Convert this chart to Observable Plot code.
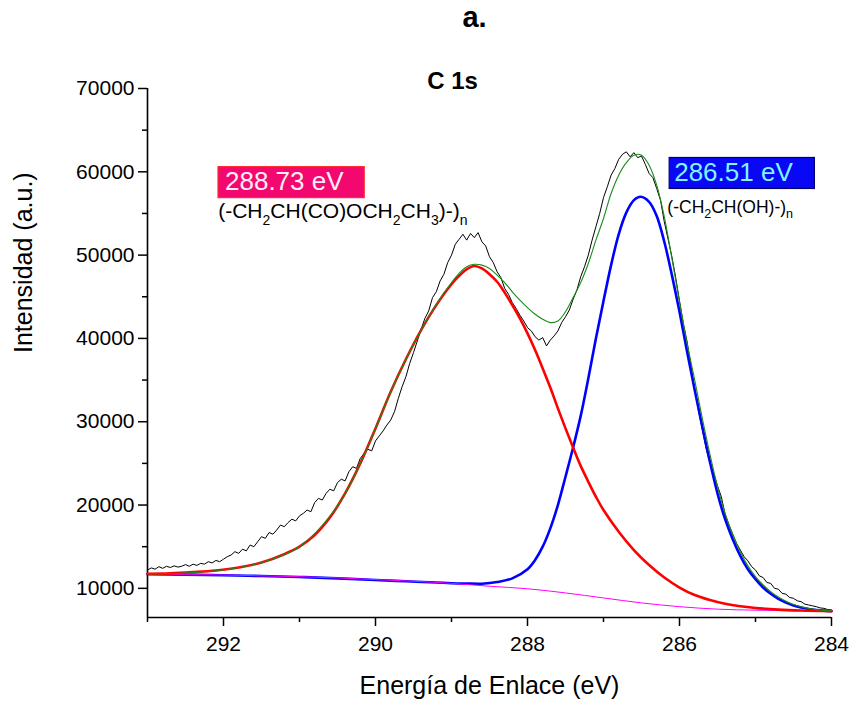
<!DOCTYPE html>
<html><head><meta charset="utf-8">
<script src="https://cdn.jsdelivr.net/npm/d3@7"></script>
<script src="https://cdn.jsdelivr.net/npm/@observablehq/plot@0.6"></script>
<style>body{margin:0;background:#fff} svg{display:block}</style>
</head><body><div id="chart"></div>
<script>
// Experimental spectrum [binding energy (eV), intensity]
const experimental = [
[293.00,12200],[292.95,12450],[292.90,12300],[292.85,12600],[292.80,12400],[292.75,12650],[292.70,12500],[292.65,12700],[292.60,12550],[292.55,12650],
[292.50,12850],[292.45,12650],[292.40,12900],[292.35,12750],[292.30,13000],[292.25,12900],[292.20,13200],[292.15,13050],[292.10,13350],[292.05,13200],
[292.00,13500],[291.95,13800],[291.90,14000],[291.85,14400],[291.80,14200],[291.75,14700],[291.70,14500],[291.65,15200],[291.60,15000],[291.55,15600],
[291.50,16200],[291.45,16000],[291.40,16700],[291.35,16500],[291.30,17000],[291.25,17600],[291.20,17400],[291.15,17900],[291.10,18300],[291.05,18100],
[291.00,18700],[290.95,19000],[290.90,19400],[290.85,19200],[290.80,20300],[290.75,20800],[290.70,20600],[290.65,21400],[290.60,21900],[290.55,21700],
[290.50,22700],[290.45,23100],[290.40,22900],[290.35,24000],[290.30,24600],[290.25,24400],[290.20,25600],[290.15,26200],[290.10,26700],[290.05,26500],
[290.00,27700],[289.95,28300],[289.90,28900],[289.85,29600],[289.80,30200],[289.75,31200],[289.70,32800],[289.65,34200],[289.60,35400],[289.55,37000],
[289.50,38300],[289.45,39700],[289.40,41100],[289.35,42400],[289.30,43300],[289.25,44900],[289.20,45600],[289.15,46900],[289.10,47700],[289.05,49100],
[289.00,50000],[288.95,51300],[288.90,51900],[288.85,52500],[288.80,51800],[288.75,52600],[288.70,52100],[288.65,52700],[288.60,51600],[288.55,51100],
[288.50,49800],[288.45,49100],[288.40,48000],[288.35,47300],[288.30,46000],[288.25,45300],[288.20,44300],[288.15,43600],[288.10,42800],[288.05,42100],
[288.00,41300],[287.95,40900],[287.90,40200],[287.85,39800],[287.80,40100],[287.75,39100],[287.70,39800],[287.65,40300],[287.60,40900],[287.55,41900],
[287.50,42600],[287.45,43400],[287.40,44700],[287.35,45800],[287.30,47400],[287.25,48600],[287.20,50000],[287.15,51800],[287.10,53400],[287.05,55000],
[287.00,56900],[286.95,58200],[286.90,59600],[286.85,60400],[286.80,61500],[286.75,62100],[286.70,62400],[286.65,61800],[286.60,62300],[286.55,61700],
[286.50,61900],[286.45,60900],[286.40,59800],[286.35,59300],[286.30,58000],[286.25,56600],[286.20,54000],[286.15,51900],[286.10,49800],[286.05,47300],
[286.00,44500],[285.95,41800],[285.90,39600],[285.85,36700],[285.80,33900],[285.75,31300],[285.70,29100],[285.65,26800],[285.60,25100],[285.55,23800],
[285.50,22300],[285.45,21000],[285.40,18900],[285.35,17600],[285.30,16500],[285.25,15400],[285.20,14600],[285.15,13800],[285.10,13300],[285.05,12600],
[285.00,12200],[284.95,11500],[284.90,11300],[284.85,10700],[284.80,10600],[284.75,10000],[284.70,9900],[284.65,9400],[284.60,9300],[284.55,8900],
[284.50,8800],[284.45,8500],[284.40,8400],[284.35,8100],[284.30,8000],[284.25,7900],[284.20,7800],[284.15,7650],[284.10,7600],[284.05,7450],[284.00,7400]
];
// Fitted envelope (green)
const envelope = [
[293.0,11750],[292.5,11850],[292.0,12200],[291.5,13100],[291.0,15000],[290.5,19900],[290.2,25000],[290.0,29200],[289.8,33600],[289.6,37500],
[289.4,41000],[289.2,44100],[289.0,46700],[288.9,47800],
[288.8,48600],[288.7,48900],[288.6,48800],[288.5,48400],[288.4,47600],[288.3,46700],[288.2,45600],[288.1,44600],[288.0,43700],[287.9,42900],
[287.8,42300],[287.7,41900],[287.6,42100],[287.5,43200],[287.4,44900],[287.3,46700],[287.2,49000],[287.1,51800],[287.0,54400],[286.9,57400],
[286.8,59600],[286.7,61100],[286.6,62000],[286.5,62000],[286.4,60800],[286.3,58400],[286.2,54600],[286.1,49600],[286.0,44400],[285.9,39400],
[285.8,35000],[285.7,30400],[285.6,26100],[285.5,22200],[285.4,19000],[285.3,16500],[285.2,14400],[285.1,12700],[285.0,11400],[284.9,10400],
[284.8,9600],[284.7,8950],[284.6,8450],[284.5,8050],[284.4,7780],[284.3,7580],[284.2,7440],[284.1,7350],[284.0,7290]
];
// Component at 288.73 eV (red)
const peakEster = [
[293.0,11750],[292.7,11800],[292.4,11950],[292.1,12150],[291.8,12500],[291.5,13100],[291.2,14100],[291.0,15000],[290.8,16400],[290.6,18500],
[290.4,21400],[290.2,25000],[290.0,29200],[289.8,33600],[289.6,37500],[289.4,41000],[289.2,44000],[289.0,46500],[288.9,47500],[288.8,48300],
[288.7,48700],[288.6,48400],[288.5,47700],[288.4,46800],[288.3,45500],[288.2,44000],[288.1,42400],[288.0,40600],[287.9,38600],[287.8,36400],
[287.7,34100],[287.6,31600],[287.5,29200],[287.4,26900],[287.3,24700],[287.2,22800],[287.1,21000],[287.0,19400],[286.8,16800],[286.6,14600],
[286.4,12800],[286.2,11300],[286.0,10100],[285.8,9200],[285.6,8600],[285.4,8150],[285.2,7850],[285.0,7650],[284.7,7450],[284.4,7340],[284.0,7270]
];
// Component at 286.51 eV (blue)
const peakAlcohol = [
[293.0,11700],[292.5,11650],[292.0,11580],[291.5,11480],[291.0,11360],[290.5,11200],[290.0,11000],[289.6,10850],[289.2,10700],[289.0,10620],
[288.8,10580],[288.6,10560],[288.4,10750],[288.2,11200],[288.0,12300],[287.9,13400],[287.8,15000],[287.7,17200],[287.6,20000],[287.5,23400],
[287.4,26900],[287.3,30700],[287.2,35200],[287.1,40000],[287.0,44500],[286.9,48800],[286.8,52500],[286.7,55100],[286.6,56600],[286.51,57000],
[286.4,56400],[286.3,54700],[286.2,51600],[286.1,47600],[286.0,43200],[285.9,38400],[285.8,33800],[285.7,29400],[285.6,25200],[285.5,21400],
[285.4,18300],[285.3,15900],[285.2,13900],[285.1,12300],[285.0,11100],[284.9,10100],[284.8,9350],[284.7,8750],[284.6,8300],[284.5,7950],
[284.4,7700],[284.3,7520],[284.2,7400],[284.1,7320],[284.0,7270]
];
// Shirley background (magenta)
const background = [
[293.0,11700],[292.5,11650],[292.0,11600],[291.5,11500],[291.0,11400],[290.5,11250],[290.0,11050],[289.5,10850],[289.0,10600],[288.5,10250],
[288.0,9950],[287.5,9450],[287.0,8850],[286.5,8250],[286.0,7800],[285.5,7500],[285.0,7380],[284.5,7310],[284.0,7270]
];

const xDomain = [293, 284];
const yDomain = [6500, 70000];
const xTicks = [292, 290, 288, 286, 284];
const xMinorTicks = [293, 291, 289, 287, 285];
const yTicks = [10000, 20000, 30000, 40000, 50000, 60000, 70000];
const yMinorTicks = [15000, 25000, 35000, 45000, 55000, 65000];

const panelTitle = "a.";
const plotTitle = "C 1s";
const xLabel = "Energía de Enlace (eV)";
const yLabel = "Intensidad (a.u.)";
// annotation anchors in data units (energy, intensity)
const peakLabels = [
  {text: "288.73 eV", e: 291.98, v: 57800},
  {text: "286.51 eV", e: 286.07, v: 58900}
];
const formulas = [
  {text: "(-CH_2CH(CO)OCH_2CH_3)-)_n", e: 292.07, v: 54400},
  {text: "(-CH_2CH(OH)-)_n", e: 286.16, v: 55000}
];

const rows = a => a.map(([e, v]) => ({e, v}));
const FONT = "'Liberation Sans', Arial, Helvetica, sans-serif";

const plot = Plot.plot({
  width: 853, height: 704,
  marginLeft: 147, marginRight: 22, marginTop: 88, marginBottom: 87,
  style: {fontFamily: FONT, fontSize: "21px", color: "#000", background: "#fff", overflow: "visible"},
  x: {domain: xDomain, axis: null},
  y: {domain: yDomain, axis: null},
  marks: [
    Plot.axisX(xTicks, {tickSize: 9, tickPadding: 10, strokeWidth: 1.5, fontSize: 21, label: null, fill: "#000"}),
    Plot.axisX(xMinorTicks, {tickSize: 5, strokeWidth: 1.5, tickFormat: () => "", label: null}),
    Plot.axisY(yTicks, {tickSize: 9, tickPadding: 4, strokeWidth: 1.5, fontSize: 21, label: null, fill: "#000", tickFormat: d => String(d)}),
    Plot.axisY(yMinorTicks, {tickSize: 5, strokeWidth: 1.5, tickFormat: () => "", label: null}),
    Plot.ruleX([xDomain[0]], {stroke: "#000", strokeWidth: 1.6}),
    Plot.ruleY([yDomain[0]], {stroke: "#000", strokeWidth: 1.6}),
    Plot.line(rows(experimental), {x: "e", y: "v", stroke: "#000", strokeWidth: 1}),
    Plot.line(rows(peakAlcohol), {x: "e", y: "v", stroke: "#0000ff", strokeWidth: 2.6, curve: "catmull-rom"}),
    Plot.line(rows(background), {x: "e", y: "v", stroke: "#ff00ff", strokeWidth: 1, curve: "catmull-rom"}),
    Plot.line(rows(peakEster), {x: "e", y: "v", stroke: "#ff0000", strokeWidth: 2.6, curve: "catmull-rom"}),
    Plot.line(rows(envelope), {x: "e", y: "v", stroke: "#1a8a1a", strokeWidth: 1.1, curve: "catmull-rom"}),
    Plot.text(peakLabels, {x: "e", y: "v", text: "text", textAnchor: "start", lineAnchor: "bottom", fontSize: 26, fill: (d, i) => i === 0 ? "#ffeef6" : "#80f4ff"}),
    Plot.text(formulas, {x: "e", y: "v", text: d => d.text.replace(/_/g, ""), textAnchor: "start", lineAnchor: "bottom", fontSize: (d, i) => i === 0 ? 21 : 17.5, fill: "#000"}),
    Plot.text([plotTitle], {frameAnchor: "top", dx: -37, dy: 0, lineAnchor: "bottom", fontSize: 24, fontWeight: "bold", fill: "#000"}),
    Plot.text([panelTitle], {frameAnchor: "top", dx: -15, dy: -62, lineAnchor: "bottom", fontSize: 29, fontWeight: "bold", fill: "#000"}),
    Plot.text([xLabel], {frameAnchor: "bottom", dy: 76, lineAnchor: "bottom", fontSize: 25, fill: "#000"}),
    Plot.text([yLabel], {frameAnchor: "left", dx: -116, rotate: -90, lineAnchor: "bottom", fontSize: 25, fill: "#000"})
  ]
});
document.getElementById("chart").appendChild(plot);

// Boxes behind the peak labels
const boxStyle = {
  "288.73 eV": {fill: "#f2086f", stroke: "#ff2a2a", padL: 7, padR: 20},
  "286.51 eV": {fill: "#0808f4", stroke: "#000070", padL: 5, padR: 21}
};
d3.select(plot).selectAll("text").each(function() {
  const t = this.textContent;
  if (boxStyle[t]) {
    const s = boxStyle[t];
    const bb = this.getBBox();
    const r = document.createElementNS("http://www.w3.org/2000/svg", "rect");
    r.setAttribute("x", bb.x - s.padL);
    r.setAttribute("y", bb.y + 0.5);
    r.setAttribute("width", bb.width + s.padL + s.padR);
    r.setAttribute("height", bb.height + 1);
    r.setAttribute("fill", s.fill);
    r.setAttribute("stroke", s.stroke);
    r.setAttribute("stroke-width", 1.2);
    if (this.getAttribute("transform")) r.setAttribute("transform", this.getAttribute("transform"));
    this.parentNode.insertBefore(r, this);
  }
});
// Subscripts in the chemical formulas
formulas.forEach((f, i) => {
  const plain = f.text.replace(/_/g, "");
  const subSize = i === 0 ? 14 : 12.5;
  const shift = i === 0 ? 7 : 5;
  d3.select(plot).selectAll("text").filter(function() { return this.textContent === plain; }).each(function() {
    const el = d3.select(this);
    el.text(null);
    const parts = f.text.split(/(_\w)/).filter(Boolean);
    let inSub = false;
    parts.forEach(p => {
      const ts = el.append("tspan");
      if (p[0] === "_") {
        ts.text(p.slice(1)).attr("font-size", subSize).attr("dy", inSub ? 0 : shift);
        inSub = true;
      } else {
        ts.text(p);
        if (inSub) ts.attr("dy", -shift);
        inSub = false;
      }
    });
  });
});
</script>
</body></html>
